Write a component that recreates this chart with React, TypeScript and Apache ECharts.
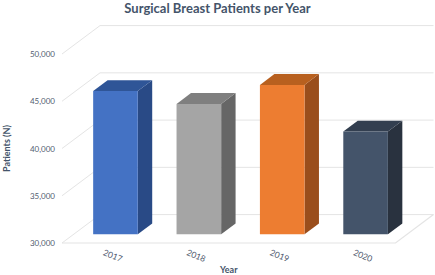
import React, { useEffect, useRef } from "react";
import * as echarts from "echarts";

const TITLE = "Surgical Breast Patients per Year";
const categories = ["2017", "2018", "2019", "2020"];
const patients = [45160, 43790, 45800, 40870];
const yTicks = [30000, 35000, 40000, 45000, 50000];
const Y_MIN = 30000;
const Y_MAX = 50000;
const Y_STEP = 5000;

const frontColors = ["#4472C4", "#A5A5A5", "#ED7D31", "#44546A"];
const topColors = ["#2F5597", "#7F7F7F", "#B8601F", "#333F50"];
const sideColors = ["#294A86", "#666666", "#9A4E1C", "#29323F"];

const DX = 38;
const DY = -28.4;
const FRONT_F = 0.31;
const BACK_F = 0.69;
const BAR_W = 0.535;

const TEXT = "#44546A";
const LABEL = "#525C70";
const GRID = "#E4E4E4";
const FONT = "Lato, 'Open Sans', sans-serif";

export default function App() {
  const ref = useRef<HTMLDivElement>(null);
  useEffect(() => {
    document.body.style.margin = "0";
    const chart = echarts.init(ref.current!, null, { renderer: "svg" });
    const option: any = {
      animation: false,
      backgroundColor: "#FFFFFF",
      title: {
        text: TITLE,
        left: "center",
        top: -4,
        textStyle: { color: TEXT, fontSize: 13, fontWeight: "bold", fontFamily: FONT },
      },
      grid: { left: 62, right: 39.5, top: 54, bottom: 32, outerBoundsMode: "none", containLabel: false },
      xAxis: {
        type: "category",
        data: categories,
        name: "Year",
        nameLocation: "middle",
        nameGap: 22,
        nameMoveOverlap: false,
        nameTextStyle: { color: TEXT, fontSize: 9, fontWeight: "bold", fontFamily: FONT },
        axisLine: { show: false },
        axisTick: { show: false },
        axisLabel: { rotate: -22, margin: 9, color: LABEL, fontSize: 8.5, fontFamily: FONT },
      },
      yAxis: {
        type: "value",
        min: Y_MIN,
        max: Y_MAX,
        interval: Y_STEP,
        name: "Patients (N)",
        nameLocation: "middle",
        nameRotate: 90,
        nameGap: 51,
        nameMoveOverlap: false,
        nameTextStyle: { color: TEXT, fontSize: 9, fontWeight: "bold", fontFamily: FONT },
        axisLine: { show: false },
        axisTick: { show: false },
        splitLine: { show: false },
        axisLabel: {
          margin: 7,
          color: LABEL,
          fontSize: 8,
          fontFamily: FONT,
          formatter: (v: number) => v.toLocaleString("en-US"),
        },
      },
      series: [
        {
          type: "custom",
          name: "walls",
          silent: true,
          z: 1,
          data: yTicks.map((t) => [0, t]),
          renderItem: (params: any, api: any) => {
            const cs = params.coordSys;
            const v = api.value(1);
            const y = api.coord([0, v])[1];
            const left = cs.x;
            const right = cs.x + cs.width;
            const children: any[] = [
              {
                type: "polyline",
                shape: { points: [[left, y], [left + DX, y + DY], [right + DX, y + DY]] },
                style: { stroke: GRID, lineWidth: 1, fill: null },
              },
            ];
            if (v === Y_MIN) {
              children.push({
                type: "polyline",
                shape: { points: [[left, y], [right, y], [right + DX, y + DY]] },
                style: { stroke: GRID, lineWidth: 1.2, fill: null },
              });
            }
            return { type: "group", children };
          },
        },
        {
          type: "custom",
          name: "Patients",
          z: 2,
          data: patients.map((v, i) => [i, v]),
          renderItem: (params: any, api: any) => {
            const i = api.value(0);
            const v = api.value(1);
            const base = api.coord([i, Y_MIN]);
            const top = api.coord([i, v]);
            const band = api.size([1, 0])[0];
            const w = band * BAR_W;
            const fx = DX * FRONT_F;
            const fy = DY * FRONT_F;
            const bdx = DX * (BACK_F - FRONT_F);
            const bdy = DY * (BACK_F - FRONT_F);
            const x0 = base[0] - w / 2 + fx;
            const x1 = base[0] + w / 2 + fx;
            const yb = base[1] + fy;
            const yt = top[1] + fy;
            return {
              type: "group",
              children: [
                {
                  type: "polygon",
                  shape: { points: [[x1, yt], [x1 + bdx, yt + bdy], [x1 + bdx, yb + bdy], [x1, yb]] },
                  style: { fill: sideColors[i] },
                },
                {
                  type: "polygon",
                  shape: { points: [[x0, yt], [x1, yt], [x1 + bdx, yt + bdy], [x0 + bdx, yt + bdy]] },
                  style: { fill: topColors[i] },
                },
                {
                  type: "rect",
                  shape: { x: x0, y: yt, width: w, height: yb - yt },
                  style: { fill: frontColors[i] },
                },
              ],
            };
          },
        },
      ],
    };
    chart.setOption(option);
    return () => chart.dispose();
  }, []);
  return <div ref={ref} style={{ position: "fixed", left: 0, top: 0, width: 435, height: 275 }} />;
}
